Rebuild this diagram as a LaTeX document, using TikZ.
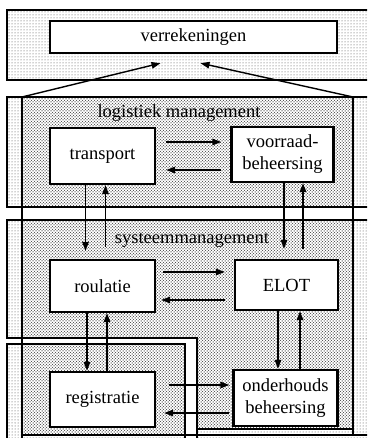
\documentclass[tikz,border=0pt]{standalone}
\usepackage{fontspec}
\setmainfont{Liberation Serif}
\usetikzlibrary{arrows.meta,patterns}
\begin{document}
\begin{tikzpicture}[x=1pt,y=-1pt,
  lightarea/.style={pattern=dots, pattern color=black!75},
  densearea/.style={pattern=crosshatch dots, pattern color=black!80},
  frame/.style={line width=1.6pt},
  unit/.style={draw, line width=2.4pt, fill=white, inner sep=0pt, align=center,
    font=\fontsize{18.5}{22}\selectfont},
  layername/.style={font=\fontsize{18.5}{22}\selectfont, inner sep=1pt},
  arr/.style={line width=1.4pt, -{Triangle[length=9pt,width=6.5pt]}}]
\useasboundingbox (0,0) rectangle (367,438);
\clip (0,0) rectangle (367,438);

% light background bands
\fill[lightarea] (7,10) rectangle (372,80);
\fill[lightarea] (7,97) rectangle (372,207);
\fill[lightarea] (7,220) rectangle (372,338);
\fill[lightarea] (197,338) rectangle (372,440);
\fill[lightarea] (7,344) rectangle (185,440);

% dense layer areas
\fill[densearea] (22,97) rectangle (353,207);
\fill[densearea] (22,220) -- (353,220) -- (353,429) -- (197,429) -- (197,338) -- (22,338) -- cycle;
\fill[densearea] (22,344) rectangle (185,435);

% frame lines
\draw[frame] (372,10) -- (7,10) -- (7,80) -- (372,80);
\draw[frame] (372,97) -- (7,97) -- (7,207) -- (372,207);
\draw[frame] (372,220) -- (7,220) -- (7,338) -- (197,338) -- (197,440);
\draw[frame] (197,429) -- (353,429);
\draw[frame] (7,440) -- (7,344) -- (185,344) -- (185,440);
\draw[frame] (22,97) -- (22,440);
\draw[frame] (353,97) -- (353,435);
\draw[frame] (22,435) -- (372,435);

\coordinate (lmL) at (22,97);
\coordinate (lmR) at (353,97);

% layer names
\node[layername] (lm) at (179,113) {logistiek management};
\node[layername] (sm) at (192,240) {systeemmanagement};

% units
\node[unit, minimum width=287pt, minimum height=32pt] (ver) at (193.5,37) {verrekeningen};
\node[unit, minimum width=105pt, minimum height=56pt] (tra) at (102.5,156) {transport};
\node[unit, minimum width=102pt, minimum height=55pt] (voo) at (282.5,154.5) {voorraad-\\beheersing};
\node[unit, minimum width=105pt, minimum height=52pt] (rou) at (102.5,286) {roulatie};
\node[unit, minimum width=103pt, minimum height=50pt] (elo) at (286.5,285) {ELOT};
\node[unit, minimum width=105pt, minimum height=55pt] (reg) at (102.5,399.5) {registratie};
\node[unit, minimum width=104pt, minimum height=56pt] (ond) at (285.5,398) {onderhouds\\beheersing};

% flows to verrekeningen
\draw[arr] (lmL) -- ([xshift=-33pt,yshift=-9pt]ver.south);
\draw[arr] (lmR) -- ([xshift=7pt,yshift=-9pt]ver.south);

% transport <-> voorraadbeheersing
\draw[arr] ([xshift=10pt,yshift=14pt]tra.east) -- ([xshift=-9pt,yshift=14pt]tra.east -| voo.west);
\draw[arr] ([xshift=-9pt,yshift=-14pt]tra.east -| voo.west) -- ([xshift=10pt,yshift=-14pt]tra.east);

% transport <-> roulatie
\draw[arr] ([xshift=-17pt]tra.south) -- ([xshift=-17pt,yshift=8pt]rou.north);
\draw[arr] ([xshift=3pt,yshift=12pt]rou.north) -- ([xshift=3pt]tra.south);

% voorraadbeheersing <-> ELOT
\draw[arr] ([xshift=1.5pt]voo.south) -- ([xshift=1.5pt,yshift=10pt]voo.south |- elo.north);
\draw[arr] ([xshift=20.5pt,yshift=10pt]voo.south |- elo.north) -- ([xshift=20.5pt]voo.south);

% roulatie <-> ELOT
\draw[arr] ([xshift=7pt,yshift=14pt]rou.east) -- ([xshift=-9pt,yshift=14pt]rou.east -| elo.west);
\draw[arr] ([xshift=-9pt,yshift=-14pt]rou.east -| elo.west) -- ([xshift=5pt,yshift=-14pt]rou.east);

% roulatie <-> registratie
\draw[arr] ([xshift=-15.5pt]rou.south) -- ([xshift=-15.5pt]rou.south |- reg.north);
\draw[arr] ([xshift=4.5pt]reg.north) -- ([xshift=4.5pt]reg.north |- rou.south);

% ELOT <-> onderhoudsbeheersing
\draw[arr] ([xshift=-8.5pt]elo.south) -- ([xshift=-8.5pt]elo.south |- ond.north);
\draw[arr] ([xshift=13.5pt]elo.south |- ond.north) -- ([xshift=13.5pt]elo.south);

% registratie <-> onderhoudsbeheersing
\draw[arr] ([xshift=13pt,yshift=14.5pt]reg.east) -- ([xshift=-3pt,yshift=14.5pt]reg.east -| ond.west);
\draw[arr] ([xshift=-3pt,yshift=-13.5pt]reg.east -| ond.west) -- ([xshift=8pt,yshift=-13.5pt]reg.east);
\end{tikzpicture}
\end{document}
